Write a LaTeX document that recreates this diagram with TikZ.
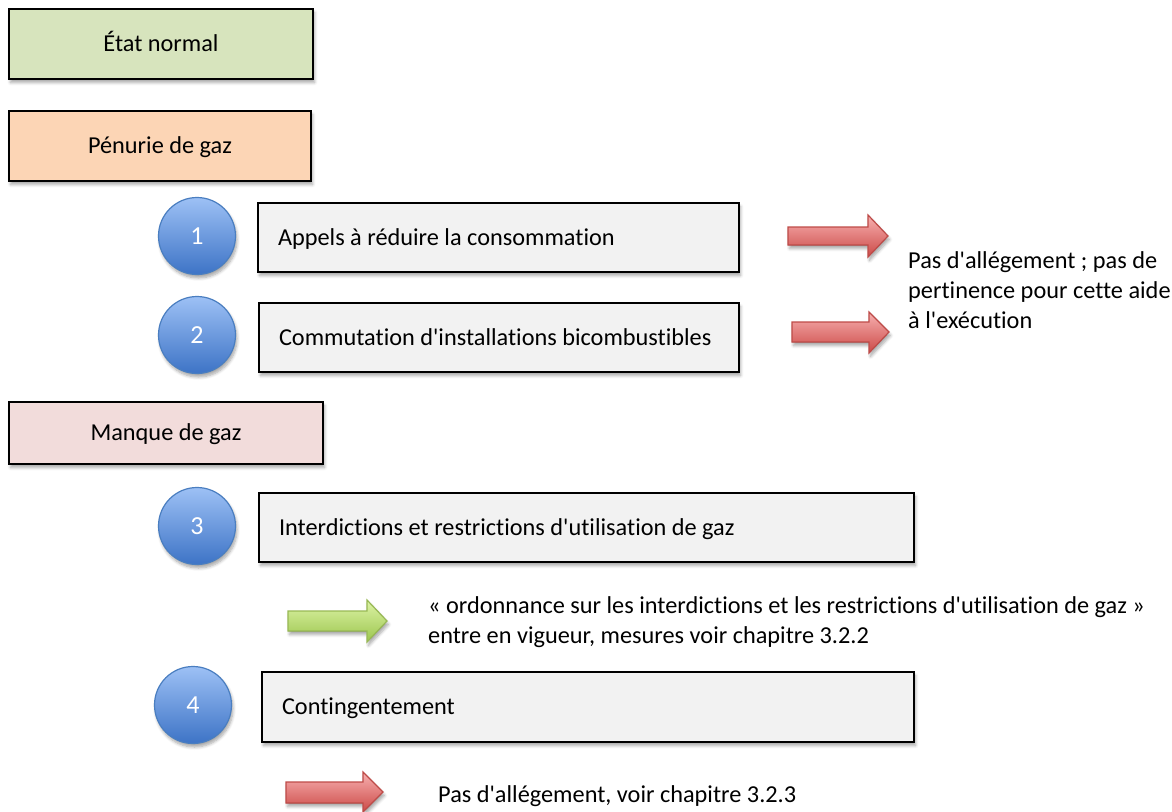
\documentclass[tikz,border=0pt]{standalone}
\usepackage{fontspec}
\setmainfont{Carlito}[Ligatures=NoCommon]
\usetikzlibrary{shadows.blur}
\newcommand{\q}{\textquotesingle}
\definecolor{normalfill}{HTML}{D7E4BD}
\definecolor{penuriefill}{HTML}{FCD5B5}
\definecolor{manquefill}{HTML}{F2DCDB}
\definecolor{taskfill}{HTML}{F2F2F2}
\definecolor{circtop}{HTML}{9DC0F5}
\definecolor{circbot}{HTML}{3D74C6}
\definecolor{circline}{HTML}{4A7EC0}
\definecolor{redtop}{HTML}{F7B0B0}
\definecolor{redbot}{HTML}{CC4A47}
\definecolor{redline}{HTML}{BE4B48}
\definecolor{greentop}{HTML}{DDF3A6}
\definecolor{greenbot}{HTML}{9CC64E}
\definecolor{greenline}{HTML}{98B954}
\begin{document}
\begin{tikzpicture}[x=1pt,y=-1pt,
  txt/.style={font=\fontsize{24.3}{30}\selectfont, inner sep=0pt},
  shad/.style={blur shadow={shadow xshift=1.5pt, shadow yshift=-3.5pt, shadow blur steps=6, shadow blur radius=3pt, shadow opacity=35}},
  phasebox/.style={draw=black, line width=2pt, shad, txt, text height=15.6pt, text depth=0pt, inner sep=0pt},
  taskbox/.style={draw=black, line width=2pt, fill=taskfill, shad, txt, text height=15.6pt, text depth=0pt, inner ysep=0pt, inner xsep=20pt},
  numcirc/.style={circle, draw=circline, line width=1.2pt, top color=circtop, bottom color=circbot, shad, minimum size=77pt, inner sep=0pt, text=white, font=\fontsize{26}{30}\selectfont, text height=16.4pt, text depth=0pt},
  redarrow/.style={draw=redline, line width=1.2pt, top color=redtop, bottom color=redbot, shad},
  greenarrow/.style={draw=greenline, line width=1.2pt, top color=greentop, bottom color=greenbot, shad}
]
\useasboundingbox (0,0) rectangle (1172,811);

% phase boxes
\node[phasebox, fill=normalfill, minimum width=304pt, minimum height=70pt] (normal) at (161,44) {État normal};
\node[phasebox, fill=penuriefill, minimum width=302pt, minimum height=70pt] (penurie) at (160,146) {Pénurie de gaz};
\node[phasebox, fill=manquefill, minimum width=314pt, minimum height=62pt] (manque) at (166,433) {Manque de gaz};

% task boxes
\node[taskbox, minimum height=69pt] (t1) at (498.5,237.5) {\makebox[441pt][l]{Appels à réduire la consommation}};
\node[taskbox, minimum height=69pt] (t2) at (499,337.5) {\makebox[440pt][l]{Commutation d\q installations bicombustibles}};
\node[taskbox, minimum height=69pt] (t3) at (586.5,527.5) {\makebox[615pt][l]{Interdictions et restrictions d\q utilisation de gaz}};
\node[taskbox, minimum height=70pt] (t4) at (588,707) {\makebox[612pt][l]{Contingentement}};

% numbered circles
\node[numcirc] (c1) at (197,236) {1};
\node[numcirc] (c2) at (197,335) {2};
\node[numcirc] (c3) at (197,526) {3};
\node[numcirc] (c4) at (193,705) {4};

% arrows
\filldraw[redarrow] (788,227) -- (868,227) -- (868,215) -- (888,236) -- (868,257) -- (868,245) -- (788,245) -- cycle;
\filldraw[redarrow] (792,322) -- (869,322) -- (869,312) -- (889,332) -- (869,353) -- (869,342) -- (792,342) -- cycle;
\filldraw[greenarrow] (288,611) -- (367,611) -- (367,600) -- (387,621) -- (367,642) -- (367,631) -- (288,631) -- cycle;
\filldraw[redarrow] (286,782) -- (363,782) -- (363,772) -- (383,792) -- (363,812) -- (363,803) -- (286,803) -- cycle;

% notes
\node[txt, anchor=base west] (n1a) at (908,268) {Pas d\q allégement ; pas de};
\node[txt, anchor=base west] (n1b) at (908,298) {pertinence pour cette aide};
\node[txt, anchor=base west] (n1c) at (908,328) {à l\q exécution};
\node[txt, anchor=base west] (n2a) at (428,613) {« ordonnance sur les interdictions et les restrictions d\q utilisation de gaz »};
\node[txt, anchor=base west] (n2b) at (428,643) {entre en vigueur, mesures voir chapitre 3.2.2};
\node[txt, anchor=base west] (n3) at (438,802) {Pas d\q allégement, voir chapitre 3.2.3};
\end{tikzpicture}
\end{document}
